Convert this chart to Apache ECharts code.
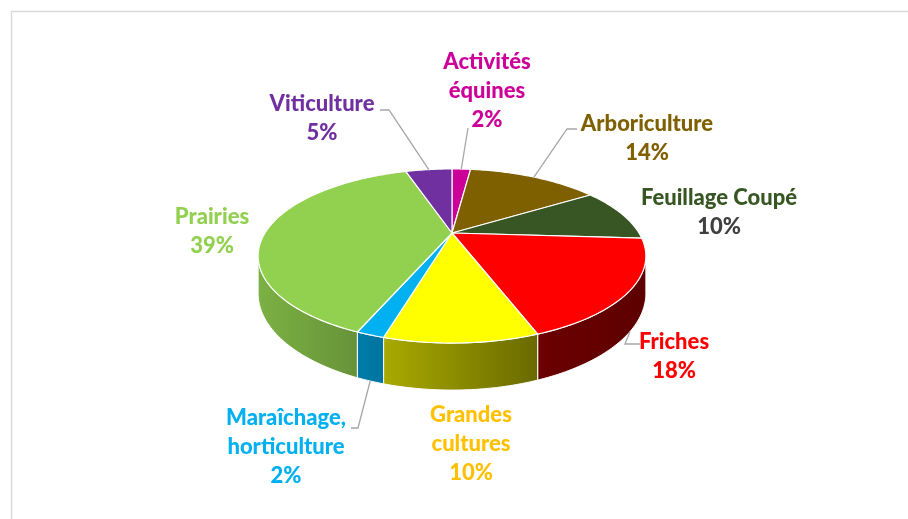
<!DOCTYPE html>
<html>
<head>
<meta charset="utf-8">
<script src="https://cdn.jsdelivr.net/npm/echarts@6/dist/echarts.min.js"></script>
<style>
  html, body { margin: 0; padding: 0; background: #fff; }
  #main { width: 908px; height: 519px; }
</style>
</head>
<body>
<div id="main"></div>
<script>
// data
var categories = ["Activités équines", "Arboriculture", "Feuillage Coupé", "Friches",
  "Grandes cultures", "Maraîchage, horticulture", "Prairies", "Viticulture"];
var labelNames = ["Activités\néquines", "Arboriculture", "Feuillage Coupé", "Friches",
  "Grandes\ncultures", "Maraîchage,\nhorticulture", "Prairies", "Viticulture"];
var values = [2, 14, 10, 18.4, 10, 1.85, 38.75, 5];

// colours
var sliceColors = ["#CC0099", "#7F6000", "#375623", "#FF0000", "#FFFF00", "#00B0F0", "#92D050", "#7030A0"];
var labelColors = ["#CC0099", "#7F6000", "#375623", "#FF0000", "#FFC000", "#00B0F0", "#92D050", "#7030A0"];
var percentColors = ["#CC0099", "#7F6000", "#404040", "#FF0000", "#FFC000", "#00B0F0", "#92D050", "#7030A0"];

// label layout (centre of text block) and leader line points
var labelPos = [[487, 91], [647, 138], [719, 212], [674, 356], [471, 444], [286, 447], [212, 231], [322, 118]];
var leaders = [[[468, 128]], [[567, 129], [577, 129]], null, [[625, 344], [640, 344]],
  null, [[358, 428], [351, 428]], null, [[389, 110], [380, 110]]];

// 3d pie projection
var CX = 452, CY = 233;   // apex
var RA = 187, RB = 81;    // radii
var K = 0.264;            // perspective
var H = 34.6;             // thickness
var visMin = Math.acos(-K) * 180 / Math.PI;
var visMax = 360 - visMin;
var LINE_H = 29;

var total = values.reduce(function (a, b) { return a + b; }, 0);
var starts = [];
var acc = 0;
values.forEach(function (v) { starts.push(acc); acc += v; });

function rim(deg, bottom) {
  var r = deg * Math.PI / 180;
  var u = Math.sin(r), v = -Math.cos(r);
  var w = 1 - K * v;
  return [CX + RA * u / w, CY + RB * v / w + (bottom ? H / w : 0)];
}

function shade(hex, f) {
  var n = parseInt(hex.slice(1), 16);
  var r = Math.round(((n >> 16) & 255) * f);
  var g = Math.round(((n >> 8) & 255) * f);
  var b = Math.round((n & 255) * f);
  return "rgb(" + r + "," + g + "," + b + ")";
}

function wallFill(hex) {
  return {
    type: "linear", x: 257, y: 0, x2: 645, y2: 0, global: true,
    colorStops: [
      { offset: 0, color: shade(hex, 0.85) },
      { offset: 0.265, color: shade(hex, 0.70) },
      { offset: 0.716, color: shade(hex, 0.42) },
      { offset: 1, color: shade(hex, 0.37) }
    ]
  };
}

function renderItem(params, api) {
  var i = params.dataIndex;
  var val = api.value(0);
  var a0 = starts[i] / total * 360;
  var a1 = a0 + val / total * 360;
  var children = [];

  // top face
  var pts = [[CX, CY]];
  for (var a = a0; a < a1; a += 1) pts.push(rim(a));
  pts.push(rim(a1));
  children.push({
    type: "polygon", z2: 10,
    shape: { points: pts },
    style: { fill: sliceColors[i], stroke: "#fff", lineWidth: 1.2, lineJoin: "round" }
  });

  // front wall
  var w0 = Math.max(a0, visMin), w1 = Math.min(a1, visMax);
  if (w1 > w0) {
    var top = [], bot = [];
    for (var b = w0; b < w1; b += 1) { top.push(rim(b)); bot.push(rim(b, true)); }
    top.push(rim(w1)); bot.push(rim(w1, true));
    children.push({
      type: "polygon", z2: 0,
      shape: { points: top.concat(bot.reverse()) },
      style: { fill: wallFill(sliceColors[i]), stroke: "#fff", lineWidth: 1, lineJoin: "round" }
    });
  }

  // leader line
  if (leaders[i]) {
    var mid = (a0 + a1) / 2;
    var isFront = mid > visMin && mid < visMax;
    var lp = [rim(mid, isFront)].concat(leaders[i]);
    children.push({
      type: "polyline", z2: 20,
      shape: { points: lp },
      style: { stroke: "#A6A6A6", lineWidth: 1.3, fill: null }
    });
  }

  // label
  var nLines = labelNames[i].split("\n").length;
  var topY = labelPos[i][1] - (nLines + 1) * LINE_H / 2;
  var font = "900 22px Lato";
  children.push({
    type: "text", z2: 30,
    style: {
      text: labelNames[i], x: labelPos[i][0], y: topY,
      align: "center", verticalAlign: "top", lineHeight: LINE_H,
      font: font, fill: labelColors[i]
    }
  });
  children.push({
    type: "text", z2: 30,
    style: {
      text: Math.round(val / total * 100) + "%", x: labelPos[i][0], y: topY + nLines * LINE_H,
      align: "center", verticalAlign: "top", lineHeight: LINE_H,
      font: font, fill: percentColors[i]
    }
  });

  return { type: "group", children: children };
}

var chart = echarts.init(document.getElementById("main"));
var option = {
  animation: false,
  backgroundColor: "#fff",
  graphic: [{
    type: "rect", left: 9, top: 9,
    shape: { width: 1000, height: 1000 },
    style: { fill: null, stroke: "#D9D9D9", lineWidth: 1.5 }
  }],
  series: [{
    type: "custom",
    coordinateSystem: "none",
    renderItem: renderItem,
    data: values.map(function (v, i) { return { name: categories[i], value: [v] }; })
  }]
};
chart.setOption(option);
window.onresize = function () {
  chart.resize();
};
</script>
</body>
</html>
